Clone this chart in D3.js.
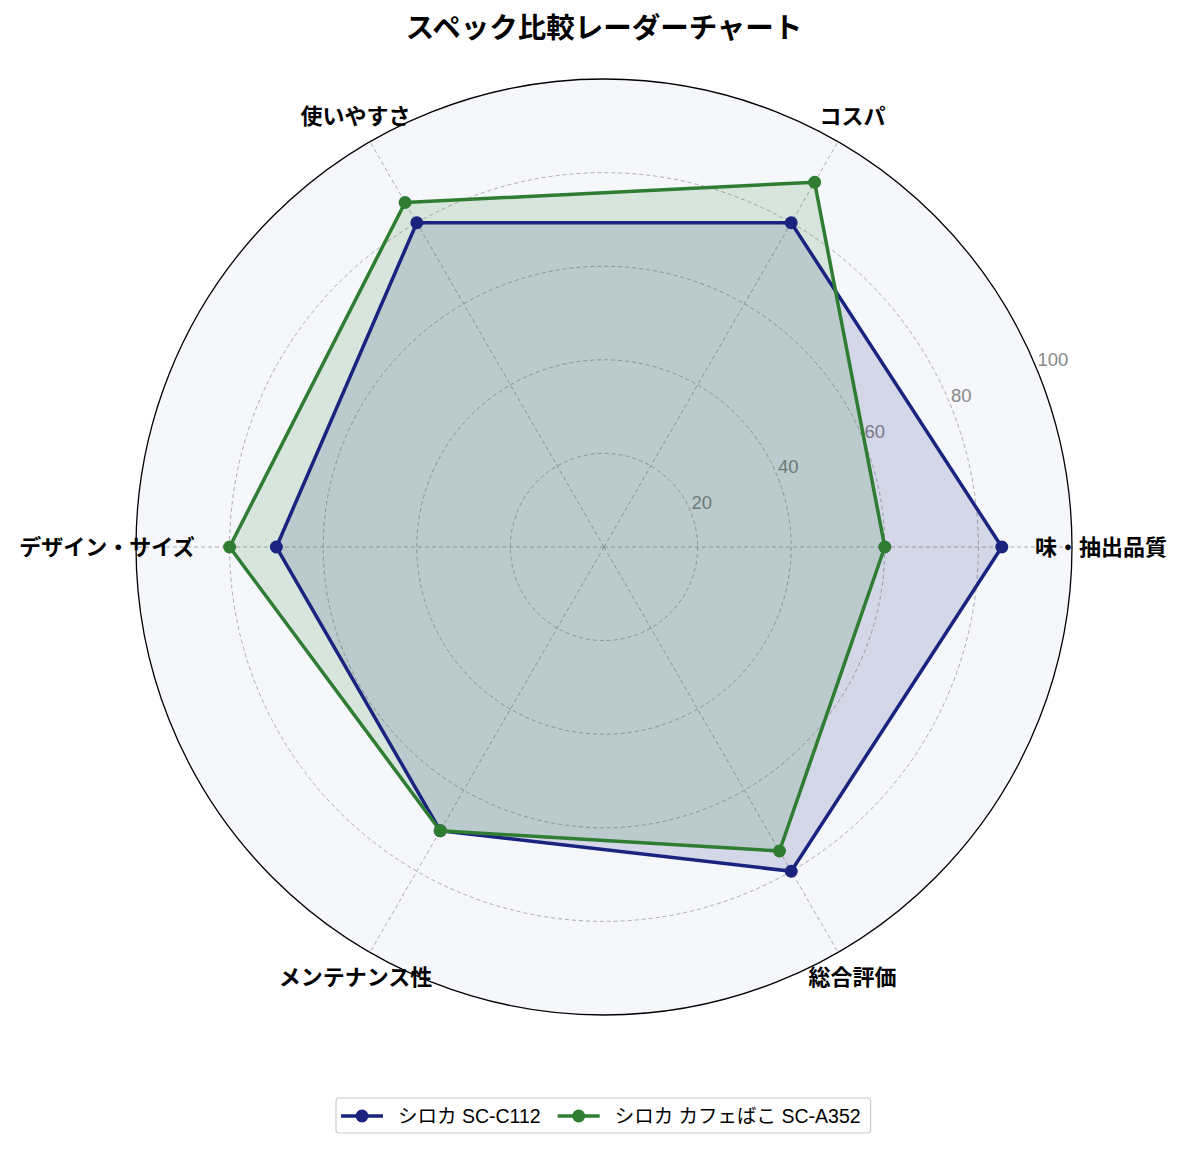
<!DOCTYPE html>
<html>
<head>
<meta charset="utf-8">
<script src="https://cdn.jsdelivr.net/npm/d3@7"></script>
<style>
  body { margin: 0; background: #fff; }
  text { font-family: "Liberation Sans", "Noto Sans CJK JP", sans-serif; }
</style>
</head>
<body>
<svg id="main"></svg>
<script>
var chart = {
  width: 1185,
  height: 1149,
  cx: 604,
  cy: 547,
  r: 468
}

var categories = ["味・抽出品質", "コスパ", "使いやすさ", "デザイン・サイズ", "メンテナンス性", "総合評価"];
var seriesNames = ["シロカ SC-C112", "シロカ カフェばこ SC-A352"];
var seriesC112 = [85, 80, 80, 70, 70, 80];
var seriesA352 = [60, 90, 85, 80, 70, 75];
var rTicks = [20, 40, 60, 80, 100];
var colors = ["#1a237e", "#2e7d32"];

var svg = d3.select("#main")
  .attr("width", chart.width)
  .attr("height", chart.height)

var g = svg.append("g").attr("transform", "translate(" + chart.cx + "," + chart.cy + ")");

var r = d3.scaleLinear().domain([0, 100]).range([0, chart.r]);
var angle = d3.scaleLinear().domain([0, categories.length]).range([0, 2 * Math.PI]);

// x,y for index i and value v (angle counter-clockwise from right)
function px(i, v) { return r(v) * Math.cos(angle(i)); }
function py(i, v) { return -r(v) * Math.sin(angle(i)); }

// background
g.append("circle").attr("r", r(100)).attr("fill", "#f5f7fb");

// grid circles
g.selectAll(".grid")
  .data(rTicks.slice(0, -1))
  .enter().append("circle")
  .attr("r", function(d) { return r(d); })
  .attr("fill", "none")
  .attr("stroke", "#999")
  .attr("stroke-width", 0.8)
  .attr("stroke-dasharray", "4,3")

// spokes
g.selectAll(".spoke")
  .data(categories)
  .enter().append("line")
  .attr("x1", 0).attr("y1", 0)
  .attr("x2", function(d, i) { return px(i, 100); })
  .attr("y2", function(d, i) { return py(i, 100); })
  .attr("stroke", "#999")
  .attr("stroke-width", 0.8)
  .attr("stroke-dasharray", "4,3")

// outer circle
g.append("circle").attr("r", r(100)).attr("fill", "none").attr("stroke", "#000").attr("stroke-width", 1.3);

// radial labels
var la = Math.PI / 8;
g.selectAll(".rlab")
  .data(rTicks)
  .enter().append("text")
  .attr("x", function(d) { return r(d) * Math.cos(la) + 1; })
  .attr("y", function(d) { return -r(d) * Math.sin(la) - 2; })
  .attr("font-size", 18.5)
  .attr("fill", "#888")
  .text(function(d) { return d; })

var line = d3.lineRadial()
  .angle(function(d, i) { return Math.PI / 2 - angle(i); })
  .radius(function(d) { return r(d); })
  .curve(d3.curveLinearClosed)

var series = [seriesC112, seriesA352];

series.forEach(function(s, k) {
  g.append("path")
    .attr("d", line(s))
    .attr("fill", colors[k])
    .attr("fill-opacity", 0.15)
    .attr("stroke", "none")
})

series.forEach(function(s, k) {
  g.append("path")
    .attr("d", line(s))
    .attr("fill", "none")
    .attr("stroke", colors[k])
    .attr("stroke-width", 3.5)
    .attr("stroke-linejoin", "round")
  g.selectAll(".pt" + k)
    .data(s)
    .enter().append("circle")
    .attr("cx", function(d, i) { return px(i, d); })
    .attr("cy", function(d, i) { return py(i, d); })
    .attr("r", 6.5)
    .attr("fill", colors[k])
})

// category labels
g.selectAll(".cat")
  .data(categories)
  .enter().append("text")
  .attr("x", function(d, i) { return 497 * Math.cos(angle(i)); })
  .attr("y", function(d, i) { return -497 * Math.sin(angle(i)); })
  .attr("text-anchor", "middle")
  .attr("dominant-baseline", "central")
  .attr("font-size", 22)
  .attr("font-weight", "bold")
  .text(function(d) { return d; })

// title
svg.append("text")
  .attr("x", chart.cx)
  .attr("y", 28)
  .attr("text-anchor", "middle")
  .attr("dominant-baseline", "central")
  .attr("font-size", 28.5)
  .attr("font-weight", "bold")
  .text("スペック比較レーダーチャート")

// legend
var leg = svg.append("g");
var box = leg.append("rect")
  .attr("fill", "#fff")
  .attr("stroke", "#ccc")
  .attr("stroke-width", 1.2)
  .attr("rx", 3)
var lx = 341, ly = 1116, tEnd = 0;
seriesNames.forEach(function(name, k) {
  leg.append("line")
    .attr("x1", lx).attr("x2", lx + 42)
    .attr("y1", ly).attr("y2", ly)
    .attr("stroke", colors[k]).attr("stroke-width", 3.5)
  leg.append("circle")
    .attr("cx", lx + 21).attr("cy", ly).attr("r", 6.5)
    .attr("fill", colors[k])
  var t = leg.append("text")
    .attr("x", lx + 57).attr("y", ly)
    .attr("dominant-baseline", "central")
    .attr("font-size", 19.5)
    .text(name)
  tEnd = lx + 57 + t.node().getComputedTextLength();
  lx = tEnd + 17;
})
box.attr("x", 336).attr("y", 1098).attr("width", tEnd + 10 - 336).attr("height", 35);
</script>
</body>
</html>
